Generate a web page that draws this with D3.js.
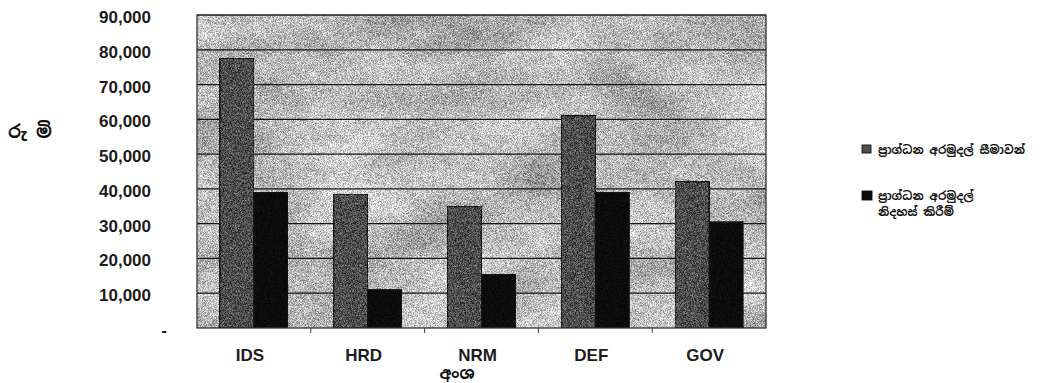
<!DOCTYPE html>
<html>
<head>
<meta charset="utf-8">
<script src="https://cdn.jsdelivr.net/npm/d3@7/dist/d3.min.js"></script>
<style>
  html, body { margin: 0; padding: 0; background: #ffffff; }
  svg { display: block; }
  .tick-label { font-family: "Liberation Sans", Arial, sans-serif; font-size: 17px; font-weight: bold; fill: #1c1c1c; }
  .sinhala { font-family: "Noto Sans Sinhala", "Iskoola Pota", "Noto Sans", sans-serif; fill: #111; font-weight: bold; }
</style>
</head>
<body>
<svg id="chart" width="1044" height="383"></svg>
<script>
// Capital fund limits vs. capital fund releases by sector (Rs. million)
const categories = ["IDS", "HRD", "NRM", "DEF", "GOV"];
const fundLimits = [77500, 38500, 35000, 61000, 42000];
const fundReleases = [39000, 11000, 15500, 39000, 30500];
const seriesNames = ["ප්‍රාග්ධන අරමුදල් සීමාවන්", "ප්‍රාග්ධන අරමුදල් නිදහස් කිරීම්"];
const legendLines = [["ප්‍රාග්ධන  අරමුදල් සීමාවන්"], ["ප්‍රාග්ධන අරමුදල්", "නිදහස් කිරීම්"]];
const yTickValues = [0, 10000, 20000, 30000, 40000, 50000, 60000, 70000, 80000, 90000];
const yTitle = "රු  මි";
const xTitle = "අංශ";

const svg = d3.select("#chart");
const plot = { left: 197, right: 766, top: 15, bottom: 328 };

// grain filters for the textured fills
const defs = svg.append("defs");
function grain(id, freq, amount, seed, coarse) {
  const f = defs.append("filter").attr("id", id)
    .attr("x", 0).attr("y", 0).attr("width", 1).attr("height", 1)
    .attr("color-interpolation-filters", "sRGB");
  f.append("feTurbulence").attr("type", "fractalNoise").attr("baseFrequency", freq)
    .attr("numOctaves", 1).attr("seed", seed).attr("result", "fine");
  f.append("feColorMatrix").attr("in", "fine").attr("type", "matrix")
    .attr("values", "1 0 0 0 0  1 0 0 0 0  1 0 0 0 0  0 0 0 0 1").attr("result", "fineG");
  f.append("feComposite").attr("in", "SourceGraphic").attr("in2", "fineG")
    .attr("operator", "arithmetic").attr("k1", 0).attr("k2", 1)
    .attr("k3", amount).attr("k4", -amount / 2).attr("result", "withFine");
  if (coarse) {
    f.append("feTurbulence").attr("type", "fractalNoise").attr("baseFrequency", "0.01 0.018")
      .attr("numOctaves", 3).attr("seed", seed + 7).attr("result", "cloud");
    f.append("feColorMatrix").attr("in", "cloud").attr("type", "matrix")
      .attr("values", "1 0 0 0 0  1 0 0 0 0  1 0 0 0 0  0 0 0 0 1").attr("result", "cloudG");
    f.append("feComposite").attr("in", "withFine").attr("in2", "cloudG")
      .attr("operator", "arithmetic").attr("k1", 0).attr("k2", 1)
      .attr("k3", coarse).attr("k4", -coarse / 2);
  }
}
grain("grainBg", 1.6, 1.1, 3, 0.4);
grain("grainBar", 1.6, 0.9, 11, 0);
grain("grainDark", 1.6, 0.15, 5, 0);

const x = d3.scaleBand().domain(categories)
  .range([plot.left, plot.right]).paddingInner(0.4035).paddingOuter(0.20175);
const xs = d3.scaleBand().domain([0, 1]).range([0, x.bandwidth()]);
const y = d3.scaleLinear().domain([0, 90000]).range([plot.bottom, plot.top]);

const colors = ["#4e4e4e", "#0c0c0c"];
const filters = ["url(#grainBar)", "url(#grainDark)"];

// plot area background
svg.append("rect")
  .attr("x", plot.left).attr("y", plot.top)
  .attr("width", plot.right - plot.left).attr("height", plot.bottom - plot.top)
  .attr("fill", "#bababa").attr("filter", "url(#grainBg)");

// horizontal gridlines
svg.append("g").selectAll("line").data(yTickValues.filter(d => d > 0))
  .join("line")
  .attr("x1", plot.left).attr("x2", plot.right)
  .attr("y1", d => y(d)).attr("y2", d => y(d))
  .attr("stroke", "#141414").attr("stroke-width", 1.2);

// bars
const rows = categories.map((c, i) => ({ c, v: [fundLimits[i], fundReleases[i]] }));
const groups = svg.append("g").selectAll("g").data(rows).join("g")
  .attr("transform", d => `translate(${x(d.c)},0)`);
groups.selectAll("rect").data(d => d.v.map((v, k) => ({ v, k })))
  .join("rect")
  .attr("x", d => xs(d.k)).attr("width", xs.bandwidth())
  .attr("y", d => y(d.v)).attr("height", d => y(0) - y(d.v))
  .attr("fill", d => colors[d.k]).attr("filter", d => filters[d.k])
  .attr("stroke", "#161616").attr("stroke-width", 1);

// plot border
svg.append("rect")
  .attr("x", plot.left).attr("y", plot.top)
  .attr("width", plot.right - plot.left).attr("height", plot.bottom - plot.top)
  .attr("fill", "none").attr("stroke", "#333").attr("stroke-width", 1.3);

// y axis labels
const yAxis = d3.axisLeft(y).tickValues(yTickValues)
  .tickFormat(d => d === 0 ? "-" : d3.format(",")(d)).tickSize(0).tickPadding(0);
const gy = svg.append("g").attr("transform", `translate(151,2)`).call(yAxis);
gy.select(".domain").remove();
gy.selectAll("text").attr("class", "tick-label").attr("font-size", null).attr("font-family", null)
  .attr("fill", null)
  .attr("dx", d => d === 0 ? 16 : 0);

// x axis with ticks between categories
const bounds = categories.slice(1).map(c => x(c) - x.step() * x.paddingInner() / 2);
svg.append("g").selectAll("line").data(bounds).join("line")
  .attr("x1", d => d).attr("x2", d => d)
  .attr("y1", plot.bottom).attr("y2", plot.bottom + 5)
  .attr("stroke", "#444").attr("stroke-width", 1);
svg.append("g").selectAll("text").data(categories).join("text")
  .attr("class", "tick-label")
  .attr("x", d => x(d) + x.bandwidth() / 2 - 4)
  .attr("y", 361)
  .attr("text-anchor", "middle")
  .text(d => d);

// axis titles
svg.append("text").attr("class", "sinhala")
  .attr("x", 457).attr("y", 379).attr("text-anchor", "middle")
  .attr("font-size", 16).text(xTitle);
svg.append("text").attr("class", "sinhala")
  .attr("x", 8).attr("y", 138)
  .attr("font-size", 18).text(yTitle);

// legend
const legend = svg.append("g");
const legendY = [150, 196];
seriesNames.forEach((name, k) => {
  legend.append("rect")
    .attr("x", 862).attr("y", legendY[k] - 5).attr("width", k === 0 ? 9 : 10).attr("height", k === 0 ? 8 : 9)
    .attr("fill", colors[k]).attr("stroke", "#111").attr("stroke-width", 0.9);
  const t = legend.append("text").attr("class", "sinhala")
    .attr("x", 878).attr("y", legendY[k] + 4).attr("font-size", 11.5);
  legendLines[k].forEach((line, j) => {
    t.append("tspan").attr("x", 878).attr("dy", j === 0 ? 0 : 16).text(line);
  });
});
</script>
</body>
</html>
